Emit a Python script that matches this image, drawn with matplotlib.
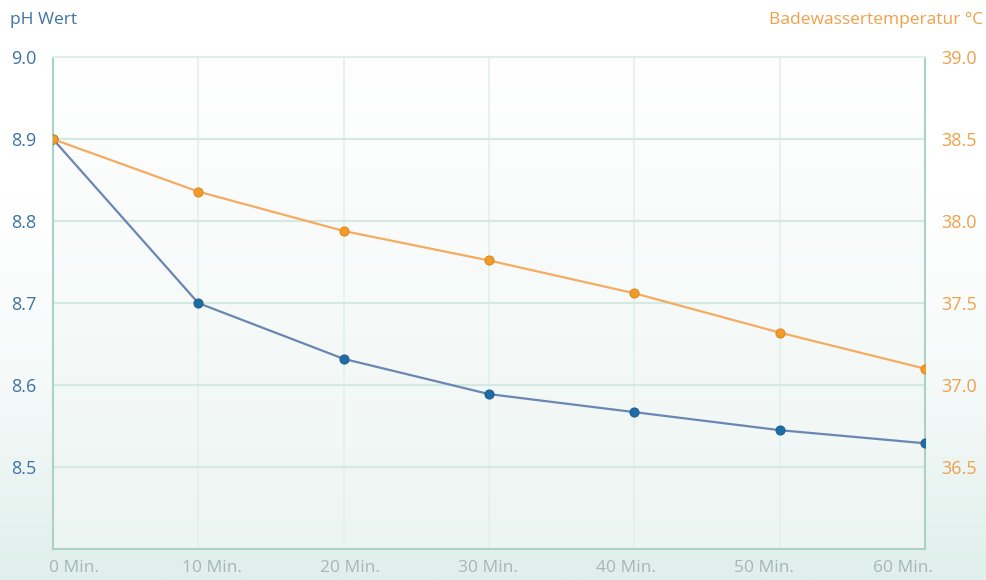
import numpy as np
import matplotlib
matplotlib.use("Agg")
import matplotlib.pyplot as plt

plt.rcParams['font.family'] = ['Open Sans', 'DejaVu Sans']

minutes = [0, 10, 20, 30, 40, 50, 60]
x_labels = ['0 Min.', '10 Min.', '20 Min.', '30 Min.', '40 Min.', '50 Min.', '60 Min.']
ph_values = [8.90, 8.70, 8.632, 8.589, 8.567, 8.545, 8.529]
temp_values = [38.50, 38.18, 37.94, 37.76, 37.56, 37.32, 37.10]

ph_ticks = [8.5, 8.6, 8.7, 8.8, 8.9, 9.0]
temp_ticks = [36.5, 37.0, 37.5, 38.0, 38.5, 39.0]

blue_text = '#3f73a3'
orange_text = '#f0a04b'
grid_col = '#d3e9e1'
vgrid_col = '#e2f0eb'
spine_col = '#a9d3c6'

fig = plt.figure(figsize=(9.87, 5.80), dpi=100)

# faint background wash in the lower part of the figure
bg = fig.add_axes([0, 0, 1, 1], zorder=-10)
grad = np.linspace(0, 1, 200).reshape(-1, 1)
bg.imshow(grad, aspect='auto', extent=[0, 1, 0, 1], origin='upper',
          cmap=matplotlib.colors.LinearSegmentedColormap.from_list(
              'w', ['#ffffff', '#ffffff', '#f5faf9', '#e0efeb']))
bg.axis('off')

ax = fig.add_axes([0.0537, 0.0534, 0.8835, 0.848])
ax.patch.set_alpha(0)
ax.imshow(grad, aspect='auto', extent=[0, 60, 8.4, 9.0], origin='upper', zorder=0,
          cmap=matplotlib.colors.LinearSegmentedColormap.from_list(
              'a', ['#ffffff', '#f6faf9', '#edf5f2']))

ax.set_xlim(0, 60)
ax.set_ylim(8.4, 9.0)

for m in minutes[1:-1]:
    ax.axvline(m, color=vgrid_col, lw=1.2, zorder=1)
for t in ph_ticks[:-1]:
    ax.axhline(t, color=grid_col, lw=1.6, zorder=1)

ax.plot(minutes, ph_values, color='#6a86b3', lw=1.6, marker='o', markersize=6.5,
        markerfacecolor='#1a6ea8', markeredgecolor='#2a5c8c', markeredgewidth=0.8, zorder=3)

ax.set_yticks(ph_ticks)
ax.set_yticklabels([f'{v:.1f}' for v in ph_ticks])
ax.tick_params(axis='y', length=0, pad=12, labelsize=13, labelcolor=blue_text)

# x labels sit slightly inward of the grid lines
label_pos = [1.45 + 9.5 * i for i in range(len(x_labels))]
ax.set_xticks(label_pos)
ax.set_xticklabels(x_labels)
ax.tick_params(axis='x', length=0, pad=8, labelsize=12.5, labelcolor='#a3b8b3')

for side in ['left', 'right', 'bottom']:
    ax.spines[side].set_color(spine_col)
    ax.spines[side].set_linewidth(1.5)
ax.spines['top'].set_color('#dcefe9')
ax.spines['top'].set_linewidth(1.5)

ax2 = ax.twinx()
ax2.set_ylim(36.0, 39.0)
ax2.plot(minutes, temp_values, color='#f5ac60', lw=1.6, marker='o', markersize=6.5,
         markerfacecolor='#f29a2a', markeredgecolor='#e08a1c', markeredgewidth=0.8, zorder=3)
ax2.set_yticks(temp_ticks)
ax2.set_yticklabels([f'{v:.1f}' for v in temp_ticks])
ax2.tick_params(axis='y', length=0, pad=12, labelsize=13, labelcolor=orange_text)
for s in ax2.spines.values():
    s.set_visible(False)

fig.text(0.01, 0.965, 'pH Wert', color=blue_text, fontsize=12.5, ha='left', va='center')
fig.text(0.996, 0.965, 'Badewassertemperatur °C', color=orange_text, fontsize=12.5,
         ha='right', va='center')

fig.savefig('out.png', dpi=100)
